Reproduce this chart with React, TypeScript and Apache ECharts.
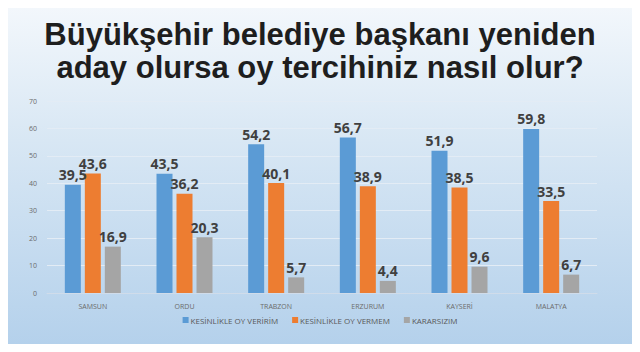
import React, { useEffect, useRef } from "react";
import * as echarts from "echarts";

const title = "Büyükşehir belediye başkanı yeniden\naday olursa oy tercihiniz nasıl olur?";
const categories = ["SAMSUN", "ORDU", "TRABZON", "ERZURUM", "KAYSERİ", "MALATYA"];
const seriesNames = ["KESİNLİKLE OY VERİRİM", "KESİNLİKLE OY VERMEM", "KARARSIZIM"];
const veririm = [39.5, 43.5, 54.2, 56.7, 51.9, 59.8];
const vermem = [43.6, 36.2, 40.1, 38.9, 38.5, 33.5];
const kararsiz = [16.9, 20.3, 5.7, 4.4, 9.6, 6.7];
const colors = ["#5b9bd5", "#ed7d31", "#a5a5a5"];

export default function App() {
  const ref = useRef<HTMLDivElement>(null);
  useEffect(() => {
    if (!ref.current) return;
    const chart = echarts.init(ref.current, undefined, { renderer: "svg" });
    const data = [veririm, vermem, kararsiz];
    chart.setOption({
      animation: false,
      backgroundColor: {
        type: "linear", x: 0, y: 0, x2: 0, y2: 1,
        colorStops: [
          { offset: 0, color: "#f4f8fc" },
          { offset: 0.4, color: "#d8e7f4" },
          { offset: 1, color: "#b3d0eb" },
        ],
      },
      title: {
        text: title,
        left: "center",
        top: 13,
        textStyle: {
          fontFamily: "Liberation Sans, Arial, sans-serif",
          fontWeight: 900,
          fontSize: 31,
          lineHeight: 33,
          color: "#1e1e1e",
        },
      },
      legend: {
        bottom: 23,
        left: "center",
        itemWidth: 6,
        itemHeight: 6,
        itemGap: 14,
        icon: "rect",
        textStyle: { fontSize: 8, color: "#595959", fontFamily: "Open Sans, sans-serif", padding: [0, 0, 0, -3] },
        data: seriesNames,
      },
      grid: { left: 47, right: 43, top: 101, bottom: 59 },
      xAxis: {
        type: "category",
        data: categories,
        axisLine: { lineStyle: { color: "#d0dcea" } },
        axisTick: { show: false },
        axisLabel: { fontSize: 7, color: "#6b6b6b", margin: 10, fontFamily: "Open Sans, sans-serif" },
      },
      yAxis: {
        type: "value",
        min: 0,
        max: 70,
        interval: 10,
        axisLine: { show: false },
        axisTick: { show: false },
        splitLine: { lineStyle: { color: "#e3ecf5" } },
        axisLabel: { fontSize: 7, color: "#6b6b6b", margin: 10, fontFamily: "Open Sans, sans-serif" },
      },
      series: seriesNames.map((name, i) => ({
        name,
        type: "bar",
        data: data[i],
        barWidth: 16,
        barGap: "25%",
        itemStyle: { color: colors[i] },
        label: {
          show: true,
          position: "top",
          distance: 3,
          fontSize: 14,
          fontWeight: "bold",
          color: "#404040",
          fontFamily: "Open Sans, sans-serif",
          formatter: (p: any) => String(p.value).replace(".", ","),
        },
      })),
    });
    return () => chart.dispose();
  }, []);
  return <div ref={ref} style={{ width: 640, height: 352, margin: -8 }} />;
}
